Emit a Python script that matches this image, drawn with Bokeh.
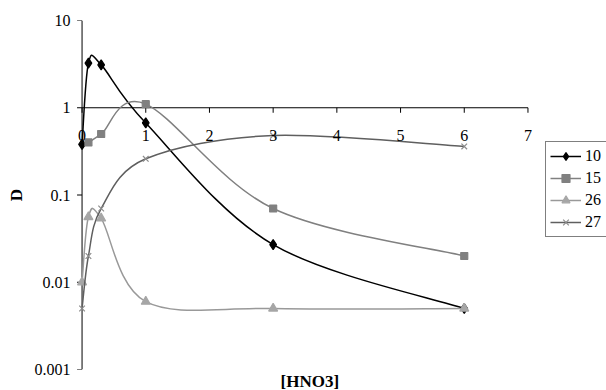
import numpy as np
from bokeh.plotting import figure
from bokeh.models import (Range1d, FixedTicker, CustomJSTickFormatter, Legend,
                          LegendItem, LabelSet, ColumnDataSource, Title)
from bokeh.embed import file_html
from bokeh.resources import INLINE
from bokeh.core.properties import value

# ---- data ----
x_10 = [0, 0.1, 0.3, 1, 3, 6]
y_10 = [0.38, 3.24, 3.1, 0.67, 0.027, 0.005]
x_15 = [0.1, 0.3, 1, 3, 6]
y_15 = [0.4, 0.5, 1.1, 0.07, 0.02]
x_26 = [0, 0.1, 0.3, 1, 3, 6]
y_26 = [0.01, 0.056, 0.054, 0.006, 0.005, 0.005]
x_27 = [0, 0.1, 0.3, 1, 3, 6]
y_27 = [0.005, 0.02, 0.07, 0.26, 0.48, 0.36]
series_names = ["10", "15", "26", "27"]
x_ticks = [0, 1, 2, 3, 4, 5, 6, 7]
y_ticks = [0.001, 0.01, 0.1, 1, 10]
x_title = "[HNO3]"
y_title = "D"

FONT = "Liberation Serif"
X_MIN, X_MAX = 0, 7
Y_MIN, Y_MAX = 0.001, 10
W, H = 606, 390
LEFT, TOP, BOTTOM = 72, 20, 21
PX_PER_X = 63.7
PAD_L = 0.15                                   # room left of x = 0 (unclipped marks)
X_END = X_MIN - PAD_L + (W - LEFT) / PX_PER_X  # frame reaches the right edge (legend area)
PX_PER_DECADE = (H - TOP - BOTTOM) / 4.0


def smooth_source(xs, ys):
    """Catmull-Rom style bezier segments (Excel 'smoothed line'), in log-y space."""
    X = np.asarray(xs, float)
    Y = np.log10(np.asarray(ys, float))
    Xp = np.concatenate([[X[0]], X, [X[-1]]])
    Yp = np.concatenate([[Y[0]], Y, [Y[-1]]])
    d = dict(x0=[], y0=[], x1=[], y1=[], cx0=[], cy0=[], cx1=[], cy1=[])
    for i in range(len(X) - 1):
        j = i + 1
        d["x0"].append(Xp[j]); d["y0"].append(10 ** Yp[j])
        d["x1"].append(Xp[j + 1]); d["y1"].append(10 ** Yp[j + 1])
        d["cx0"].append(Xp[j] + (Xp[j + 1] - Xp[j - 1]) / 6)
        d["cy0"].append(10 ** (Yp[j] + (Yp[j + 1] - Yp[j - 1]) / 6))
        d["cx1"].append(Xp[j + 1] - (Xp[j + 2] - Xp[j]) / 6)
        d["cy1"].append(10 ** (Yp[j + 1] - (Yp[j + 2] - Yp[j]) / 6))
    return ColumnDataSource(d)


p = figure(width=W, height=H, output_backend="svg", toolbar_location=None,
           x_range=Range1d(X_MIN - PAD_L, X_END), y_range=Range1d(Y_MIN, Y_MAX),
           y_axis_type="log",
           min_border_left=LEFT, min_border_right=0, min_border_top=TOP, min_border_bottom=BOTTOM)
p.outline_line_color = None
p.xgrid.visible = False
p.ygrid.visible = False
p.xaxis.visible = False
p.background_fill_color = "white"
p.border_fill_color = "white"

# ---- y axis: labels from the real axis, line and ticks drawn at x = 0 ----
yax = p.yaxis[0]
yax.ticker = FixedTicker(ticks=y_ticks)
yax.formatter = CustomJSTickFormatter(code="return tick.toString();")
yax.axis_line_color = None
yax.major_tick_line_color = None
yax.major_tick_out = 0
yax.major_tick_in = 0
yax.minor_tick_line_color = None
yax.minor_tick_out = 0
yax.major_label_standoff = 2
yax.major_label_text_font = FONT
yax.major_label_text_font_size = "16px"
yax.major_label_text_color = "black"
yax.axis_label = y_title
yax.axis_label_text_font = FONT
yax.axis_label_text_font_size = "17px"
yax.axis_label_text_font_style = "bold"
yax.axis_label_text_color = "black"
yax.axis_label_standoff = 6

p.segment(x0=[X_MIN], y0=[Y_MIN], x1=[X_MIN], y1=[Y_MAX], line_color="black", line_width=1)
ytick_len = 5 / PX_PER_X
p.segment(x0=[X_MIN - ytick_len] * len(y_ticks), y0=y_ticks, x1=[X_MIN] * len(y_ticks),
          y1=y_ticks, line_color="black", line_width=1)

# ---- x axis crossing at y = 1 ----
p.segment(x0=[X_MIN], y0=[1], x1=[X_MAX], y1=[1], line_color="black", line_width=1)
xtick_len = 10 ** (-5 / PX_PER_DECADE)
p.segment(x0=x_ticks, y0=[1] * len(x_ticks), x1=x_ticks, y1=[xtick_len] * len(x_ticks),
          line_color="black", line_width=1)
xt_src = ColumnDataSource(dict(x=x_ticks, y=[1] * len(x_ticks), t=[str(t) for t in x_ticks]))
p.add_layout(LabelSet(x="x", y="y", text="t", source=xt_src, text_align="center",
                      text_baseline="alphabetic", y_offset=-33, text_font=value(FONT),
                      text_font_size="16px", text_color="black"))

# x title below the frame, placed under the 0..7 axis
p.add_layout(Title(text=x_title, align="left", offset=208, standoff=0,
                   text_font=FONT, text_font_size="17px", text_font_style="bold",
                   text_color="black"), "below")

styles = [
    (x_10, y_10, "#000000", "#000000", "diamond", 10),
    (x_15, y_15, "#808080", "#808080", "square", 7),
    (x_26, y_26, "#999999", "#a6a6a6", "triangle", 9),
    (x_27, y_27, "#5f5f5f", "#8c8c8c", "x", 8),
]
items = []
for name, (xs, ys, lc, mc, mk, ms) in zip(series_names, styles):
    src = smooth_source(xs, ys)
    b = p.bezier(x0="x0", y0="y0", x1="x1", y1="y1", cx0="cx0", cy0="cy0",
                 cx1="cx1", cy1="cy1", source=src, line_color=lc, line_width=1.5)
    s = p.scatter(xs, ys, marker=mk, size=ms, fill_color=mc, line_color=mc, line_width=1.2)
    items.append(LegendItem(label=name, renderers=[b, s]))

legend = Legend(items=items, location=(473, 132), padding=4, spacing=2, margin=0,
                glyph_width=31, glyph_height=20, label_height=20, label_standoff=4,
                label_width=50,
                label_text_font=FONT, label_text_font_size="16px", label_text_color="black",
                border_line_color="black", border_line_width=1,
                background_fill_color="white", background_fill_alpha=1)
p.add_layout(legend)

open("out.html", "w").write(file_html(p, INLINE))
